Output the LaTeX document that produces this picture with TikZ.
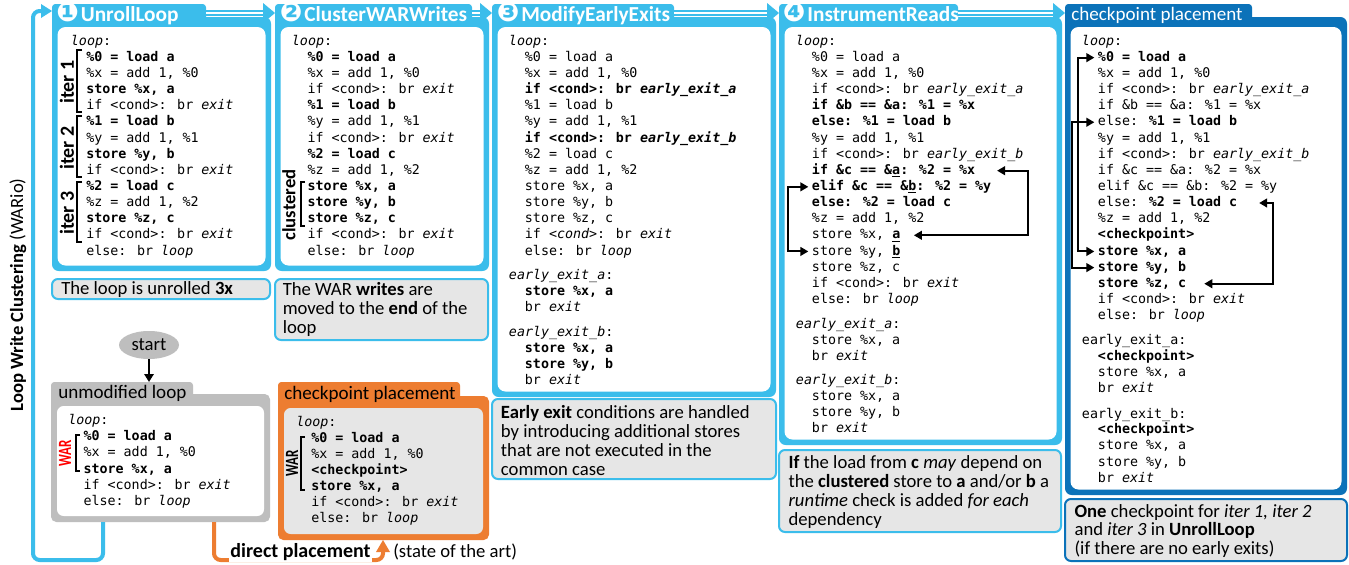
\documentclass[tikz,border=0pt]{standalone}
\usepackage{fontspec}
\setmainfont{Carlito}
\newfontfamily\mono{DejaVu Sans Mono}
\newfontfamily\ding{DejaVu Sans}
\usetikzlibrary{arrows.meta,shapes.geometric,calc}
\definecolor{lb}{HTML}{3BBDEB}
\definecolor{db}{HTML}{0B72B9}
\definecolor{orng}{HTML}{ED7D31}
\definecolor{gfr}{HTML}{BEBEBE}
\definecolor{capf}{HTML}{E6E6E6}
\newcommand\codefont{\fontsize{10pt}{12pt}\mono}
\newcommand\capfont{\fontsize{14pt}{16pt}\selectfont}
\newcommand\ttlfont{\fontsize{16pt}{18pt}\selectfont\bfseries}
\newcommand\ttlrfont{\fontsize{14.3pt}{16pt}\selectfont}
\newcommand\num[1]{{\ding\fontsize{20pt}{20pt}\selectfont #1}}
\newcommand\codeblock[4]{\foreach \myline [count=\i from 0] in {#4} {\node[code] (#1\i) at (#2,{#3+16.15*\i}) {\myline};}}
\newcommand\capblock[5]{\foreach \myline [count=\i from 0] in {#5} {\node[captext] (#1\i) at (#2,{#3+#4*\i}) {\myline};}}
\newcommand\panel[5]{%
  \fill[#5, rounded corners=5pt] (#1,17) rectangle (#2,#3);
  \fill[#5, rounded corners=2.5pt] (#1,4) rectangle (#4,30);
  \fill[white, rounded corners=6pt] (#1+5.5,27) rectangle (#2-5.5,#3-5.5);}
\newcommand\flowarrow[2]{%
  \draw[lb, line width=5pt] (#1) -- ($(#2)+(-10,0)$);
  \draw[white, line width=1.8pt] (#1) -- ($(#2)+(-10,0)$);
  \fill[lb] ($(#2)+(-12,-10)$) -- (#2) -- ($(#2)+(-12,10)$) -- cycle;}
\begin{document}
\begin{tikzpicture}[x=0.75pt,y=-0.75pt,
  code/.style={anchor=base west, inner sep=0pt, font=\codefont, text height=7.5pt, text depth=2pt},
  captext/.style={anchor=base west, inner sep=0pt, font=\capfont},
  capbox/.style={draw=lb, line width=1.5pt, fill=capf, rounded corners=4.5pt},
  brk/.style={line width=1.5pt},
  conn/.style={line width=1.5pt, <->, >={Triangle[length=6pt,width=6.5pt]}},
  ttl/.style={anchor=base west, inner sep=0pt, font=\ttlfont, text=white},
  sidelabel/.style={rotate=90, inner sep=0pt, font=\fontsize{15pt}{15pt}\selectfont\bfseries},
  ]
\useasboundingbox (0,0) rectangle (1349,564);
\fill[white] (0,0) rectangle (1349,564);

% ---------- panels ----------
\panel{52}{271}{271}{206}{lb}
\panel{275}{489}{271}{472}{lb}
\panel{492}{776}{397}{674}{lb}
\panel{779}{1062}{445}{958}{lb}
\panel{1065}{1347}{495}{1252}{db}

% ---------- flow arrows ----------
\coordinate (t1r) at (206,13); \coordinate (p2in) at (275,13);
\coordinate (t2r) at (472,13); \coordinate (p3in) at (492,13);
\coordinate (t3r) at (674,13); \coordinate (p4in) at (779,13);
\coordinate (t4r) at (958,13); \coordinate (p5in) at (1065,13);
\flowarrow{t1r}{p2in}
\flowarrow{t2r}{p3in}
\flowarrow{t3r}{p4in}
\flowarrow{t4r}{p5in}

% ---------- titles ----------
\node[ttl] (ttl1) at (56,21.5) {\num{❶}\hspace{1.5pt}UnrollLoop};
\node[ttl] (ttl2) at (279.5,21.5) {\num{❷}\hspace{1.5pt}ClusterWARWrites};
\node[ttl] (ttl3) at (496.5,21.5) {\num{❸}\hspace{1.5pt}ModifyEarlyExits};
\node[ttl] (ttl4) at (782.5,21.5) {\num{❹}\hspace{1.5pt}InstrumentReads};
\node[ttl, font=\ttlrfont] (ttl5) at (1071,21) {checkpoint placement};

% ---------- panel 1 ----------
\node[code] (p1loop) at (70.7,45.7) {\textit{loop}:};
\codeblock{p1c}{86}{61.3}{
 {\textbf{\%0 = load a}},
 {\%x = add 1, \%0},
 {\textbf{store \%x, a}},
 {if <cond>: br \textit{exit}},
 {\textbf{\%1 = load b}},
 {\%y = add 1, \%1},
 {\textbf{store \%y, b}},
 {if <cond>: br \textit{exit}},
 {\textbf{\%2 = load c}},
 {\%z = add 1, \%2},
 {\textbf{store \%z, c}},
 {if <cond>: br \textit{exit}},
 {else: br \textit{loop}}}
\draw[brk] (82,50) -- (76.5,50) -- (76.5,112) -- (82,112);
\draw[brk] (82,116) -- (76.5,116) -- (76.5,177) -- (82,177);
\draw[brk] (82,182) -- (76.5,182) -- (76.5,242) -- (82,242);
\node[sidelabel] (it1) at (67,82) {iter 1};
\node[sidelabel] (it2) at (67,148) {iter 2};
\node[sidelabel] (it3) at (67,213) {iter 3};

% ---------- panel 2 ----------
\node[code] (p2loop) at (291.7,45.7) {\textit{loop}:};
\codeblock{p2c}{307.3}{61.3}{
 {\textbf{\%0 = load a}},
 {\%x = add 1, \%0},
 {if <cond>: br \textit{exit}},
 {\textbf{\%1 = load b}},
 {\%y = add 1, \%1},
 {if <cond>: br \textit{exit}},
 {\textbf{\%2 = load c}},
 {\%z = add 1, \%2},
 {\textbf{store \%x, a}},
 {\textbf{store \%y, b}},
 {\textbf{store \%z, c}},
 {if <cond>: br \textit{exit}},
 {else: br \textit{loop}}}
\draw[brk] (305,181.5) -- (300.5,181.5) -- (300.5,226) -- (305,226);
\node[sidelabel, font=\fontsize{14pt}{14pt}\selectfont\bfseries] (clu) at (289,205) {clustered};

% ---------- panel 3 ----------
\node[code] (p3loop) at (508.7,45.7) {\textit{loop}:};
\codeblock{p3c}{524.7}{61.3}{
 {\%0 = load a},
 {\%x = add 1, \%0},
 {\textbf{if <cond>: br \textit{early\_exit\_a}}},
 {\%1 = load b},
 {\%y = add 1, \%1},
 {\textbf{if <cond>: br \textit{early\_exit\_b}}},
 {\%2 = load c},
 {\%z = add 1, \%2},
 {store \%x, a},
 {store \%y, b},
 {store \%z, c},
 {if \textit{<cond>}: br \textit{exit}},
 {else: br \textit{loop}}}
\node[code] (p3ea) at (508.7,279) {\textit{early\_exit\_a}:};
\codeblock{p3a}{524.7}{295.2}{
 {\textbf{store \%x, a}},
 {br \textit{exit}}}
\node[code] (p3eb) at (508.7,336) {\textit{early\_exit\_b}:};
\codeblock{p3b}{524.7}{352.2}{
 {\textbf{store \%x, a}},
 {\textbf{store \%y, b}},
 {br \textit{exit}}}

% ---------- panel 4 ----------
\node[code] (p4loop) at (795.7,45.7) {\textit{loop}:};
\codeblock{p4c}{811.7}{61.3}{
 {\%0 = load a},
 {\%x = add 1, \%0},
 {if <cond>: br \textit{early\_exit\_a}},
 {\textbf{if \&b == \&a: \%1 = \%x}},
 {\textbf{else: \%1 = load b}},
 {\%y = add 1, \%1},
 {if <cond>: br \textit{early\_exit\_b}},
 {\textbf{if \&c == \&\underline{a}: \%2 = \%x}},
 {\textbf{elif \&c == \&\underline{b}: \%2 = \%y}},
 {\textbf{else: \%2 = load c}},
 {\%z = add 1, \%2},
 {store \%x, \textbf{\underline{a}}},
 {store \%y, \textbf{\underline{b}}},
 {store \%z, c},
 {if <cond>: br \textit{exit}},
 {else: br \textit{loop}}}
\node[code] (p4ea) at (795.7,328) {\textit{early\_exit\_a}:};
\codeblock{p4a}{811.7}{344.5}{
 {store \%x, a},
 {br \textit{exit}}}
\node[code] (p4eb) at (795.7,384) {\textit{early\_exit\_b}:};
\codeblock{p4b}{811.7}{400.5}{
 {store \%x, a},
 {store \%y, b},
 {br \textit{exit}}}
\coordinate (p4vr) at (1028.3,0);
\coordinate (p4vl) at (787.7,0);
\coordinate (p4r1) at ([xshift=16.2pt]p4c7.east);
\coordinate (p4r2) at ([xshift=10pt]p4c11.east);
\coordinate (p4l1) at ([xshift=-2.5pt]p4c8.west);
\coordinate (p4l2) at ([xshift=-2.5pt]p4c12.west);
\draw[conn] (p4r1) -- (p4r1 -| p4vr) -- (p4r2 -| p4vr) -- (p4r2);
\draw[conn] (p4l1) -- (p4l1 -| p4vl) -- (p4l2 -| p4vl) -- (p4l2);

% ---------- panel 5 ----------
\node[code] (p5loop) at (1081.7,45.7) {\textit{loop}:};
\codeblock{p5c}{1097.7}{61.3}{
 {\textbf{\%0 = load a}},
 {\%x = add 1, \%0},
 {if <cond>: br \textit{early\_exit\_a}},
 {if \&b == \&a: \%1 = \%x},
 {else: \textbf{\%1 = load b}},
 {\%y = add 1, \%1},
 {if <cond>: br \textit{early\_exit\_b}},
 {if \&c == \&a: \%2 = \%x},
 {elif \&c == \&b: \%2 = \%y},
 {else: \textbf{\%2 = load c}},
 {\%z = add 1, \%2},
 {\textbf{<checkpoint>}},
 {\textbf{store \%x, a}},
 {\textbf{store \%y, b}},
 {\textbf{store \%z, c}},
 {if <cond>: br \textit{exit}},
 {else: br \textit{loop}}}
\node[code] (p5ea) at (1081.7,344) {early\_exit\_a:};
\codeblock{p5a}{1097.7}{360.2}{
 {\textbf{<checkpoint>}},
 {store \%x, a},
 {br \textit{exit}}}
\node[code] (p5eb) at (1081.7,418) {early\_exit\_b:};
\codeblock{p5b}{1097.7}{433.8}{
 {\textbf{<checkpoint>}},
 {store \%x, a},
 {store \%y, b},
 {br \textit{exit}}}
\coordinate (p5v1) at (1077.7,0);
\coordinate (p5v2) at (1072.3,0);
\coordinate (p5vr) at (1273.3,0);
\coordinate (p5a1) at ([xshift=-2.5pt]p5c0.west);
\coordinate (p5a2) at ([xshift=-2.5pt]p5c12.west);
\coordinate (p5b1) at ([xshift=-2.5pt]p5c4.west);
\coordinate (p5b2) at ([xshift=-2.5pt]p5c13.west);
\coordinate (p5c1) at ([xshift=16.3pt]p5c9.east);
\coordinate (p5c2) at ([xshift=13.3pt]p5c14.east);
\draw[conn] (p5a1) -- (p5a1 -| p5v1) -- (p5a2 -| p5v1) -- (p5a2);
\draw[conn] (p5b1) -- (p5b1 -| p5v2) -- (p5b2 -| p5v2) -- (p5b2);
\draw[conn] (p5c1) -- (p5c1 -| p5vr) -- (p5c2 -| p5vr) -- (p5c2);

% ---------- captions ----------
\draw[capbox] (52,279) rectangle (270,299);
\capblock{cap1}{61}{294.5}{19}{{The loop is unrolled \textbf{3x}}}
\draw[capbox] (275,279) rectangle (488,340);
\capblock{cap2}{282.5}{295}{19}{{The WAR \textbf{writes} are},{moved to the \textbf{end} of the},{loop}}
\draw[capbox] (492,399) rectangle (776,479);
\capblock{cap3}{500.7}{418}{19}{{\textbf{Early exit} conditions are handled},{by introducing additional stores},{that are not executed in the},{common case}}
\draw[capbox] (779,450) rectangle (1061,532);
\capblock{cap4}{788.3}{468}{19}{{\textbf{If} the load from \textbf{c} \textit{may} depend on},{the \textbf{clustered} store to \textbf{a} and/or \textbf{b} a},{\textit{runtime} check is added \textit{for each}},{dependency}}
\draw[capbox, draw=db] (1065,499) rectangle (1347,561);
\capblock{cap5}{1074.3}{517}{18.5}{{\textbf{One} checkpoint for \textit{iter 1, iter 2}},{and \textit{iter 3} in \textbf{UnrollLoop}},{(if there are no early exits)}}

% ---------- side label ----------
\node[sidelabel, font=\fontsize{14pt}{14pt}\selectfont] (side) at (18,295) {\textbf{Loop Write Clustering} (WARio)};

% ---------- bottom: unmodified loop ----------
\fill[gfr, rounded corners=4pt] (51,394) rectangle (270,522);
\fill[gfr, rounded corners=2.5pt] (51,382) rectangle (193,405);
\fill[white, rounded corners=5pt] (57,406) rectangle (264,516);
\node[ttl, font=\ttlrfont, text=black] (umttl) at (58,398.5) {unmodified loop};
\node[code] (umloop) at (68,424.7) {\textit{loop}:};
\codeblock{umc}{83.3}{440.7}{
 {\textbf{\%0 = load a}},
 {\%x = add 1, \%0},
 {\textbf{store \%x, a}},
 {if <cond>: br \textit{exit}},
 {else: br \textit{loop}}}
\draw[brk] (80,435) -- (75.5,435) -- (75.5,471) -- (80,471);
\node[sidelabel, text=red, font=\fontsize{14pt}{14pt}\selectfont\bfseries] (war1) at (65,453) {\scalebox{0.7}[1]{WAR}};

% ---------- bottom: checkpoint placement (orange) ----------
\fill[orng, rounded corners=4pt] (278,396) rectangle (489,540);
\fill[orng, rounded corners=2.5pt] (278,382) rectangle (460,405);
\fill[capf, rounded corners=5pt] (284,408) rectangle (483,534);
\node[ttl, font=\ttlrfont, text=black] (orttl) at (284,399.5) {checkpoint placement};
\node[code] (orloop) at (296,426) {\textit{loop}:};
\codeblock{orc}{311}{442}{
 {\textbf{\%0 = load a}},
 {\%x = add 1, \%0},
 {\textbf{<checkpoint>}},
 {\textbf{store \%x, a}},
 {if <cond>: br \textit{exit}},
 {else: br \textit{loop}}}
\draw[brk] (305,436.5) -- (300.5,436.5) -- (300.5,489.5) -- (305,489.5);
\node[sidelabel, font=\fontsize{14pt}{14pt}\selectfont\bfseries] (war2) at (292,463) {\scalebox{0.7}[1]{WAR}};

% ---------- start ----------
\node[ellipse, fill=gfr, minimum width=45pt, minimum height=21pt, inner sep=0pt, font=\fontsize{14pt}{14pt}\selectfont] (start) at (149,345) {start};
\coordinate (umtop) at (149,382);
\draw[line width=1.5pt, -{Triangle[length=6pt,width=7pt]}] (start) -- (umtop);

% ---------- loop-back arrow ----------
\coordinate (umb) at (103,522);
\coordinate (p1in) at (52,11);
\draw[lb, line width=3pt, rounded corners=5pt] (umb) -- (103,560) -- (33,560) -- (33,11) -- ($(p1in)+(-9,0)$);
\fill[lb] ($(p1in)+(-11,-7)$) -- (p1in) -- ($(p1in)+(-11,7)$) -- cycle;

% ---------- direct placement arrow ----------
\coordinate (umo) at (214,522);
\coordinate (orb) at (383,540);
\draw[orng, line width=3pt, rounded corners=5pt] (umo) -- (214,560) -- (383,560) -- ($(orb)+(0,10)$);
\fill[orng] ($(orb)+(-7,12)$) -- (orb) -- ($(orb)+(7,12)$) -- cycle;
\node[font=\fontsize{15pt}{15pt}\selectfont\bfseries, fill=white, inner sep=1pt] (dp) at (300.5,552) {direct placement};
\node[font=\capfont, anchor=west, inner sep=0pt] (sota) at (393,552) {(state of the art)};
\end{tikzpicture}
\end{document}
